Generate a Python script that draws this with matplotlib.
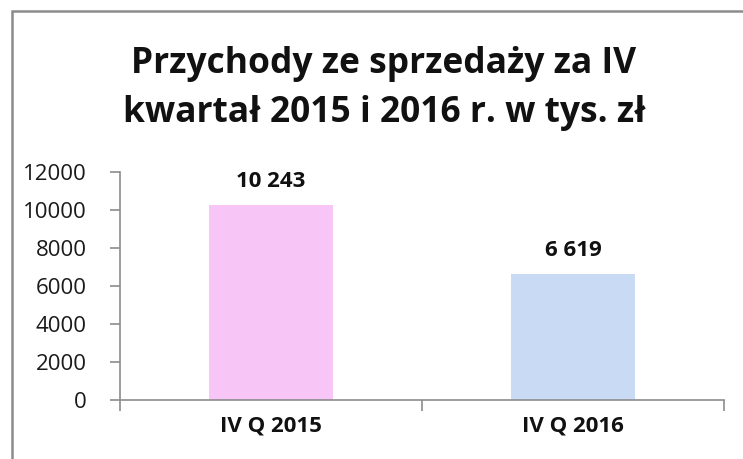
import matplotlib
matplotlib.use("Agg")
import matplotlib.pyplot as plt
from matplotlib.patches import Rectangle

categories = ["IV Q 2015", "IV Q 2016"]
values = [10243, 6619]
value_labels = ["10 243", "6 619"]
colors = ["#F7C6F7", "#C9DBF4"]
yticks = [0, 2000, 4000, 6000, 8000, 10000, 12000]
title_lines = ["Przychody ze sprzedaży za IV", "kwartał 2015 i 2016 r. w tys. zł"]

plt.rcParams['font.family'] = ['Open Sans', 'DejaVu Sans']

W, H = 743, 459
fig = plt.figure(figsize=(W / 100, H / 100), dpi=100)

# outer frame (only top and left visible in reference)
fig.patches.append(Rectangle((11.5 / W, -0.1), 1.2, (H - 11.5) / H + 0.1, transform=fig.transFigure,
                             fill=False, edgecolor="#8C8C8C", linewidth=1.8))

ax = fig.add_axes([120 / W, (H - 400) / H, (724 - 120) / W, (400 - 172) / H])
x = list(range(len(categories)))
ax.bar(x, values, width=0.41, color=colors)
ax.set_xlim(-0.5, len(categories) - 0.5)
ax.set_ylim(0, 12000)
ax.set_yticks(yticks)
ax.set_yticklabels([str(t) for t in yticks], fontsize=16, color="#1a1a1a")
ax.set_xticks([-0.5, 0.5, 1.5])
ax.set_xticklabels([])
ax.set_xticks(x, minor=True)
ax.set_xticklabels(categories, minor=True, fontsize=16, fontweight="bold", color="#111111")
ax.tick_params(axis="x", which="minor", length=0, pad=11)
ax.tick_params(axis="x", which="major", length=8, color="#8C8C8C", width=1.2)
ax.tick_params(axis="y", length=7, color="#8C8C8C", width=1.2, pad=17)
for s in ["top", "right"]:
    ax.spines[s].set_visible(False)
for s in ["left", "bottom"]:
    ax.spines[s].set_color("#8C8C8C")
    ax.spines[s].set_linewidth(1.2)

for xi, v, lab in zip(x, values, value_labels):
    ax.annotate(lab, (xi, v), xytext=(0, 13), textcoords="offset points",
                ha="center", va="baseline", fontsize=16, fontweight="bold", color="#111111")

for line, base_y in zip(title_lines, [73, 122]):
    fig.text(384 / W, 1 - base_y / H, line, ha="center", va="baseline", fontsize=25.5,
             fontweight="bold", color="#111111")

fig.savefig("out.png", dpi=100, facecolor="white")
